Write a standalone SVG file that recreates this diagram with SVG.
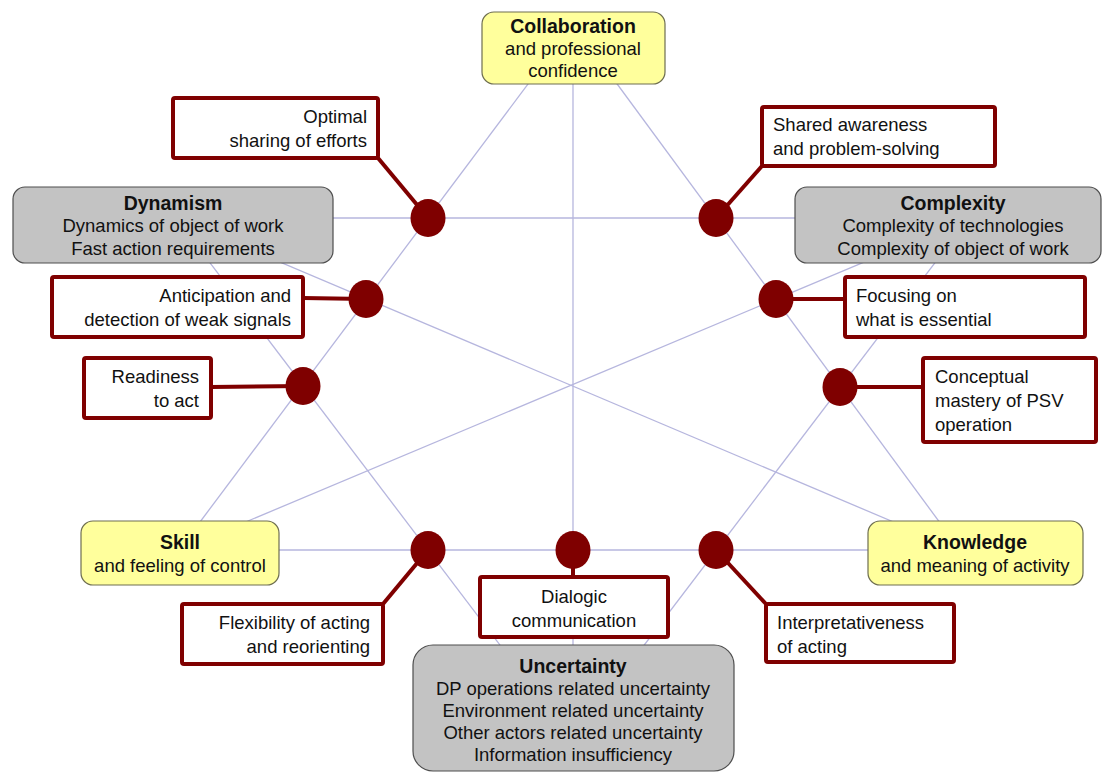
<svg xmlns="http://www.w3.org/2000/svg" width="1103" height="772" viewBox="0 0 1103 772">
<style>
.bg{fill:#ffffff}
.hx{stroke:#b6b6de;stroke-width:1.3;fill:none}
.ld{stroke:#7f0000;stroke-width:4;fill:none}
.dot{fill:#7f0000}
.cb{fill:#ffffff;stroke:#7f0000;stroke-width:4}
.yb{fill:#ffff9c;stroke:#6e6e50;stroke-width:1.2}
.gb{fill:#c3c3c3;stroke:#4e4e4e;stroke-width:1.2}
text{font-family:"Liberation Sans",Arial,sans-serif;font-size:18.5px;fill:#111}
.b{font-weight:bold;font-size:19.5px}
.m{text-anchor:middle}
.r{text-anchor:end}
</style>
<rect class="bg" x="0" y="0" width="1103" height="772"/>
<g id="connectors">
  <g id="hexagram">
    <line class="hx" x1="573" y1="24" x2="179" y2="550"/>
    <line class="hx" x1="573" y1="24" x2="960" y2="550"/>
    <line class="hx" x1="179" y1="550" x2="960" y2="550"/>
    <line class="hx" x1="176" y1="218" x2="969" y2="218"/>
    <line class="hx" x1="176" y1="218" x2="572" y2="740"/>
    <line class="hx" x1="969" y1="218" x2="572" y2="740"/>
    <line class="hx" x1="573" y1="24" x2="573" y2="740"/>
    <line class="hx" x1="176" y1="218" x2="962" y2="551"/>
    <line class="hx" x1="969" y1="218" x2="179" y2="550"/>
  </g>
</g>
<g id="collaboration">
  <rect class="yb" x="482" y="12" width="183" height="72" rx="12"/>
  <text class="b m" x="573" y="33">Collaboration</text>
  <text class="m" x="573" y="55">and professional</text>
  <text class="m" x="573" y="77">confidence</text>
</g>
<g id="dynamism">
  <rect class="gb" x="13" y="187" width="320" height="76" rx="12"/>
  <text class="b m" x="173" y="210">Dynamism</text>
  <text class="m" x="173" y="232">Dynamics of object of work</text>
  <text class="m" x="173" y="255">Fast action requirements</text>
</g>
<g id="complexity">
  <rect class="gb" x="795" y="187" width="306" height="76" rx="12"/>
  <text class="b m" x="953" y="210">Complexity</text>
  <text class="m" x="953" y="232">Complexity of technologies</text>
  <text class="m" x="953" y="255">Complexity of object of work</text>
</g>
<g id="skill">
  <rect class="yb" x="81" y="521" width="198" height="64" rx="12"/>
  <text class="b m" x="180" y="549">Skill</text>
  <text class="m" x="180" y="572">and feeling of control</text>
</g>
<g id="knowledge">
  <rect class="yb" x="868" y="521" width="215" height="64" rx="12"/>
  <text class="b m" x="975" y="549">Knowledge</text>
  <text class="m" x="975" y="572">and meaning of activity</text>
</g>
<g id="uncertainty">
  <rect class="gb" x="413" y="645" width="321" height="126" rx="20"/>
  <text class="b m" x="573" y="673">Uncertainty</text>
  <text class="m" x="573" y="695">DP operations related uncertainty</text>
  <text class="m" x="573" y="717">Environment related uncertainty</text>
  <text class="m" x="573" y="739">Other actors related uncertainty</text>
  <text class="m" x="573" y="761">Information insufficiency</text>
</g>
<g id="leaders">
  <line class="ld" x1="378" y1="158" x2="428" y2="218"/>
  <line class="ld" x1="762" y1="166" x2="716" y2="218"/>
  <line class="ld" x1="303" y1="298" x2="366" y2="299"/>
  <line class="ld" x1="211" y1="387" x2="303" y2="386"/>
  <line class="ld" x1="776" y1="299" x2="845" y2="299"/>
  <line class="ld" x1="840" y1="387" x2="923" y2="387"/>
  <line class="ld" x1="383" y1="604" x2="428" y2="550"/>
  <line class="ld" x1="573" y1="550" x2="573" y2="577"/>
  <line class="ld" x1="716" y1="550" x2="766" y2="604"/>
</g>
<g id="optimal-sharing">
  <ellipse class="dot" cx="428" cy="218" rx="17.5" ry="19"/>
  <rect class="cb" x="173" y="98" width="205" height="60" rx="2"/>
  <text class="r" x="367" y="123">Optimal</text>
  <text class="r" x="367" y="147">sharing of efforts</text>
</g>
<g id="shared-awareness">
  <ellipse class="dot" cx="716" cy="218" rx="17.5" ry="19"/>
  <rect class="cb" x="762" y="107" width="233" height="59" rx="2"/>
  <text x="773" y="131">Shared awareness</text>
  <text x="773" y="155">and problem-solving</text>
</g>
<g id="anticipation">
  <ellipse class="dot" cx="366" cy="299" rx="17.5" ry="19"/>
  <rect class="cb" x="52" y="277" width="251" height="60" rx="2"/>
  <text class="r" x="291" y="302">Anticipation and</text>
  <text class="r" x="291" y="326">detection of weak signals</text>
</g>
<g id="readiness">
  <ellipse class="dot" cx="303" cy="386" rx="17.5" ry="19"/>
  <rect class="cb" x="84" y="358" width="127" height="60" rx="2"/>
  <text class="r" x="199" y="383">Readiness</text>
  <text class="r" x="199" y="407">to act</text>
</g>
<g id="focusing">
  <ellipse class="dot" cx="776" cy="299" rx="17.5" ry="19"/>
  <rect class="cb" x="845" y="277" width="240" height="60" rx="2"/>
  <text x="856" y="302">Focusing on</text>
  <text x="856" y="326">what is essential</text>
</g>
<g id="conceptual">
  <ellipse class="dot" cx="840" cy="387" rx="17.5" ry="19"/>
  <rect class="cb" x="923" y="358" width="173" height="84" rx="2"/>
  <text x="935" y="383">Conceptual</text>
  <text x="935" y="407">mastery of PSV</text>
  <text x="935" y="431">operation</text>
</g>
<g id="flexibility">
  <ellipse class="dot" cx="428" cy="550" rx="17.5" ry="19"/>
  <rect class="cb" x="182" y="604" width="201" height="60" rx="2"/>
  <text class="r" x="370" y="629">Flexibility of acting</text>
  <text class="r" x="370" y="653">and reorienting</text>
</g>
<g id="dialogic">
  <ellipse class="dot" cx="573" cy="550" rx="17.5" ry="19"/>
  <rect class="cb" x="480" y="577" width="188" height="60" rx="2"/>
  <text class="m" x="574" y="603">Dialogic</text>
  <text class="m" x="574" y="627">communication</text>
</g>
<g id="interpretativeness">
  <ellipse class="dot" cx="716" cy="550" rx="17.5" ry="19"/>
  <rect class="cb" x="766" y="604" width="188" height="58" rx="2"/>
  <text x="777" y="629">Interpretativeness</text>
  <text x="777" y="653">of acting</text>
</g>
</svg>
